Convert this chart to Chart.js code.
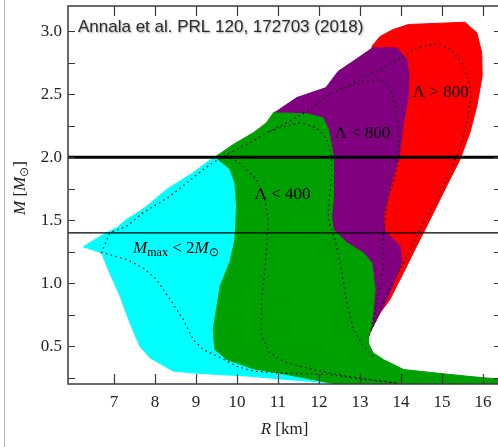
<!DOCTYPE html>
<html><head><meta charset="utf-8">
<script src="https://cdn.jsdelivr.net/npm/chart.js@4.4.1/dist/chart.umd.min.js"></script>
<style>html,body{margin:0;padding:0;background:#fff;overflow:hidden;}#wrap{width:502px;height:447px;}</style>
</head><body><div id="wrap"><canvas id="c" width="502" height="447"></canvas></div>
<script>
// ---- data (R in km, M in solar masses) ----
const xRange = [5.88, 16.44];
const yRange = [0.2, 3.2];
const xTickValues = [7, 8, 9, 10, 11, 12, 13, 14, 15, 16];
const yTickValues = [0.25, 0.5, 0.75, 1.0, 1.25, 1.5, 1.75, 2.0, 2.25, 2.5, 2.75, 3.0];
const yTickLabels = ['', '0.5', '', '1.0', '', '1.5', '', '2.0', '', '2.5', '', '3.0'];
const massLines = [2.0, 1.4];

const cyanRegion = [[9.42,1.995],[8.93,1.876],[8.29,1.744],[7.80,1.611],[7.63,1.571],[7.31,1.506],[7.07,1.440],[6.74,1.387],[6.25,1.289],[6.70,1.241],[6.86,1.109],[7.15,0.897],[7.39,0.686],[7.63,0.500],[7.88,0.408],[8.45,0.302],[9.10,0.284],[10.32,0.262],[11.00,0.241],[12.27,0.209],[12.43,0.2],[11.54,0.871],[11.05,1.664],[10.07,1.982]];
const greenRegion = [[9.46,2.00],[9.91,2.101],[10.40,2.194],[10.72,2.273],[10.89,2.352],[11.70,2.345],[12.10,2.311],[12.23,2.220],[12.31,2.087],[12.35,2.008],[12.35,1.849],[12.35,1.664],[12.31,1.532],[12.35,1.426],[12.68,1.321],[13.08,1.241],[13.29,1.162],[13.37,0.950],[13.29,0.659],[13.20,0.579],[13.20,0.527],[13.32,0.448],[13.57,0.394],[14.06,0.315],[14.95,0.284],[16.01,0.249],[16.44,0.24],[16.44,0.2],[12.43,0.2],[11.21,0.276],[10.40,0.321],[9.99,0.368],[9.75,0.394],[9.46,0.473],[9.42,0.633],[9.59,0.976],[9.83,1.170],[9.95,1.347],[9.99,1.611],[9.95,1.797],[9.83,1.902]];
const purpleRegion = [[10.89,2.352],[10.97,2.365],[11.46,2.473],[12.17,2.552],[12.47,2.682],[12.86,2.767],[13.31,2.868],[13.90,2.868],[14.14,2.775],[14.20,2.643],[14.18,2.484],[14.06,2.273],[13.96,2.008],[13.81,1.849],[13.57,1.532],[13.61,1.413],[13.98,1.294],[14.02,1.162],[13.69,0.897],[13.41,0.712],[13.24,0.606],[13.20,0.56],[12.76,0.871],[12.02,1.664]];
const redRegion = [[13.29,2.879],[13.49,2.958],[13.81,3.013],[14.18,3.053],[15.56,3.071],[15.85,2.987],[15.97,2.829],[15.98,2.643],[15.85,2.405],[15.68,2.194],[15.44,1.982],[15.11,1.770],[14.71,1.506],[14.38,1.294],[14.06,1.083],[13.73,0.871],[13.49,0.765],[13.29,0.646],[13.20,0.569],[13.00,1.029],[12.63,1.664],[12.76,2.458]];

const dotOuter = [[13.90,0.208],[13.07,0.236],[12.27,0.276],[11.21,0.284],[10.40,0.302],[9.99,0.341],[9.59,0.410],[9.18,0.473],[8.93,0.553],[8.69,0.712],[8.37,0.871],[8.04,1.029],[7.71,1.122],[7.31,1.188],[6.70,1.245],[6.90,1.400],[7.31,1.452],[7.71,1.559],[8.37,1.690],[8.93,1.837],[9.34,1.942],[9.75,2.021],[10.24,2.101],[10.72,2.194],[11.29,2.286],[11.78,2.379],[12.19,2.484],[12.51,2.537],[13.16,2.643],[13.66,2.728],[14.07,2.799],[14.41,2.871],[14.88,2.902],[15.22,2.855],[15.49,2.744],[15.66,2.603],[15.71,2.482],[15.63,2.315],[15.49,2.125],[15.24,1.902],[14.88,1.664],[14.46,1.426],[14.15,1.212],[13.80,1.006],[13.56,0.847],[13.37,0.696],[13.24,0.593]];
const dotL400Left = [[9.75,2.021],[10.15,1.929],[10.48,1.823],[10.68,1.664],[10.76,1.506],[10.72,1.241],[10.60,0.844],[10.60,0.579],[10.80,0.448],[11.21,0.368],[11.86,0.315],[12.68,0.262],[13.90,0.208]];
const dotL400Right = [[10.80,2.204],[11.05,2.233],[11.54,2.273],[11.94,2.233],[12.19,2.141],[12.31,2.008],[12.31,1.849],[12.23,1.611],[12.23,1.506],[12.39,1.347],[12.55,1.109],[12.68,0.844],[12.84,0.633],[13.08,0.500],[13.32,0.421]];
const dotL800 = [[12.59,2.550],[13.16,2.603],[13.49,2.617],[13.73,2.563],[13.85,2.432],[13.93,2.246],[13.95,2.008],[13.85,1.850],[13.65,1.638],[13.57,1.373],[13.57,1.109],[13.49,0.976],[13.37,0.791],[13.27,0.633]];

const regionLabels = [
  {parts: [['Λ','r'],[' > ','r'],['800','r']], R: 14.97, M: 2.478},
  {parts: [['Λ','r'],[' < ','r'],['800','r']], R: 13.06, M: 2.150},
  {parts: [['Λ','r'],[' < ','r'],['400','r']], R: 11.11, M: 1.668},
  {parts: [['M','i'],['max','s'],[' < 2','r'],['M','i'],['⊙','s']], R: 8.51, M: 1.240}
];
const titleText = 'Annala et al. PRL 120, 172703 (2018)';

// ---- helpers ----
const pts = a => a.map(p => ({x: p[0], y: p[1]}));
function region(arr, color, order) {
  return {data: pts(arr), fill: 'shape', backgroundColor: color, borderColor: color, borderWidth: 1,
          pointRadius: 0, tension: 0, order: order};
}
function dotted(arr) {
  return {data: pts(arr), fill: false, borderColor: '#111', borderWidth: 1.3, borderDash: [1.5, 3.5],
          pointRadius: 0, tension: 0, order: 3};
}
function hline(m, w) {
  return {data: [{x: xRange[0], y: m}, {x: xRange[1], y: m}], fill: false, borderColor: '#000',
          borderWidth: w, pointRadius: 0, order: 1};
}
const SERIF = '"Liberation Serif", "Times New Roman", serif';
const fontFor = k => k === 'i' ? 'italic 17px ' + SERIF : (k === 's' ? '12px ' + SERIF : '17px ' + SERIF);
function drawRich(ctx, parts, cx, base) {
  let w = 0;
  parts.forEach(p => { ctx.font = fontFor(p[1]); w += ctx.measureText(p[0]).width; });
  let xx = cx - w / 2;
  parts.forEach(p => {
    ctx.font = fontFor(p[1]);
    ctx.fillText(p[0], xx, base + (p[1] === 's' ? 3 : 0));
    xx += ctx.measureText(p[0]).width;
  });
}
function noPad(s) { s.paddingTop = 0; s.paddingBottom = 0; s.paddingLeft = 0; s.paddingRight = 0; }

const overlay = {
  id: 'overlay',
  beforeDraw(chart) {
    const ctx = chart.ctx;
    ctx.save();
    ctx.fillStyle = '#fff'; ctx.fillRect(0, 0, chart.width, chart.height);
    ctx.strokeStyle = '#b5b5b5'; ctx.lineWidth = 1;
    ctx.beginPath(); ctx.moveTo(4.5, 0); ctx.lineTo(4.5, chart.height); ctx.stroke();
    ctx.restore();
  },
  afterDatasetsDraw(chart) {
    const {ctx, chartArea: a, scales: {x, y}} = chart;
    ctx.save();
    ctx.strokeStyle = '#3a3a3a'; ctx.lineWidth = 1.5;
    ctx.strokeRect(a.left, a.top, a.right - a.left, a.bottom - a.top);
    ctx.lineWidth = 1.2; ctx.beginPath();
    x.ticks.forEach(t => {
      const px = Math.round(x.getPixelForValue(t.value)) + 0.5;
      ctx.moveTo(px, a.bottom); ctx.lineTo(px, a.bottom - 10);
      ctx.moveTo(px, a.top); ctx.lineTo(px, a.top + 10);
    });
    y.ticks.forEach(t => {
      const py = Math.round(y.getPixelForValue(t.value)) + 0.5;
      ctx.moveTo(a.left, py); ctx.lineTo(a.left + 7, py);
      ctx.moveTo(a.right, py); ctx.lineTo(a.right - 7, py);
    });
    ctx.stroke();
    // region labels
    ctx.fillStyle = '#000'; ctx.textBaseline = 'alphabetic';
    regionLabels.forEach(l => drawRich(ctx, l.parts, x.getPixelForValue(l.R), y.getPixelForValue(l.M)));
    // title
    ctx.save();
    ctx.font = '17px "Liberation Sans", Arial, sans-serif';
    ctx.fillStyle = '#2a2a2a';
    ctx.shadowColor = 'rgba(0,0,0,0.35)'; ctx.shadowOffsetX = 1; ctx.shadowOffsetY = 1; ctx.shadowBlur = 2;
    ctx.textAlign = 'left';
    ctx.fillText(titleText, a.left + 10, a.top + 26);
    ctx.restore();
    // axis titles
    ctx.fillStyle = '#222';
    drawRich(ctx, [['R','i'],[' [km]','r']], (a.left + a.right) / 2, a.bottom + 50);
    ctx.save();
    ctx.translate(25, 188); ctx.rotate(-Math.PI / 2);
    drawRich(ctx, [['M','i'],[' [','r'],['M','i'],['⊙','s'],[']','r']], 0, 0);
    ctx.restore();
    ctx.restore();
  }
};

const datasets = [
  hline(massLines[0], 3), hline(massLines[1], 1.3),
  dotted(dotOuter), dotted(dotL400Left), dotted(dotL400Right), dotted(dotL800),
  region(greenRegion, '#00a000', 7),
  region(purpleRegion, '#800080', 8),
  region(redRegion, '#ff0000', 9),
  region(cyanRegion, '#00ffff', 10)
];

new Chart(document.getElementById('c'), {
  type: 'line',
  data: {datasets},
  options: {
    responsive: false, animation: false, events: [],
    layout: {padding: {top: 6, right: 1, left: 0, bottom: 0}},
    plugins: {legend: {display: false}, tooltip: {enabled: false}, title: {display: false}},
    scales: {
      x: {type: 'linear', min: xRange[0], max: xRange[1],
          afterBuildTicks: s => { s.ticks = xTickValues.map(v => ({value: v})); },
          afterFit: s => { s.height = 63; noPad(s); },
          grid: {display: false, drawTicks: false}, border: {display: false},
          ticks: {padding: 8, autoSkip: false, maxRotation: 0, color: '#222',
                  font: {family: SERIF, size: 17}, callback: v => String(v)}},
      y: {type: 'linear', min: yRange[0], max: yRange[1],
          afterBuildTicks: s => { s.ticks = yTickValues.map(v => ({value: v})); },
          afterFit: s => { s.width = 68; noPad(s); },
          grid: {display: false, drawTicks: false}, border: {display: false},
          ticks: {autoSkip: false, padding: 6, color: '#222',
                  font: {family: SERIF, size: 17},
                  callback: (v, i) => yTickLabels[i]}}
    }
  },
  plugins: [overlay]
});
</script>
</body></html>
